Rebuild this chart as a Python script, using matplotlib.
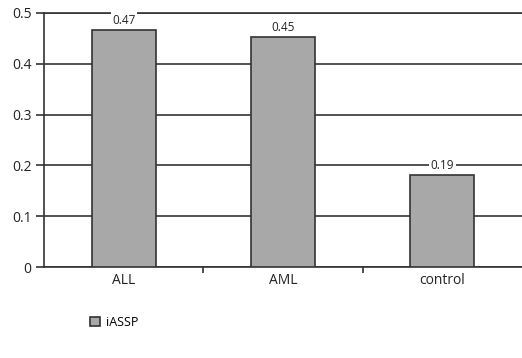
import numpy as np
import matplotlib.pyplot as plt

# Datos
categories = ['ALL', 'AML', 'control']
values = [0.467, 0.452, 0.181]
value_labels = ['0.47', '0.45', '0.19']
series_name = 'iASSP'

plt.rcParams['font.family'] = ['Open Sans', 'DejaVu Sans']

fig = plt.figure(figsize=(5.22, 3.58), dpi=100)
ax = fig.add_axes([0.0843, 0.254, 0.9157, 0.7097])

x = np.arange(len(categories))
bars = ax.bar(x, values, width=0.4, color='#a8a8a8', edgecolor='#333333',
              linewidth=1.2, label=series_name, zorder=3)

for xi, v, lab in zip(x, values, value_labels):
    ax.text(xi, v + 0.006, lab, ha='center', va='bottom', fontsize=8.5,
            color='#222222', zorder=4,
            bbox=dict(facecolor='white', edgecolor='none', pad=1.0))

ax.set_xlim(-0.5, 2.5)
ax.set_ylim(0, 0.5)
ax.set_yticks([0, 0.1, 0.2, 0.3, 0.4, 0.5])
ax.set_yticklabels(['0', '0.1', '0.2', '0.3', '0.4', '0.5'])
ax.yaxis.grid(True, color='#333333', linewidth=1.2, zorder=0)
ax.set_axisbelow(True)

ax.set_xticks(x)
ax.set_xticklabels(categories)
ax.tick_params(axis='x', length=0, labelsize=10, pad=4, colors='#222222')
ax.set_xticks([0.5, 1.5], minor=True)
ax.tick_params(axis='x', which='minor', length=4, width=1.2, direction='out', color='#333333')
ax.tick_params(axis='y', length=6, width=1.2, labelsize=10, pad=3, colors='#222222')
ax.tick_params(axis='y', color='#333333')

for s in ['left', 'bottom', 'top']:
    ax.spines[s].set_color('#333333')
    ax.spines[s].set_linewidth(1.2)
ax.spines['right'].set_visible(False)

fig.legend(handles=[bars], labels=[series_name], loc='center left',
           bbox_to_anchor=(0.15, 0.1), frameon=False, fontsize=9,
           handlelength=0.8, handleheight=0.8, handletextpad=0.5)

fig.savefig('out.png', dpi=100)
